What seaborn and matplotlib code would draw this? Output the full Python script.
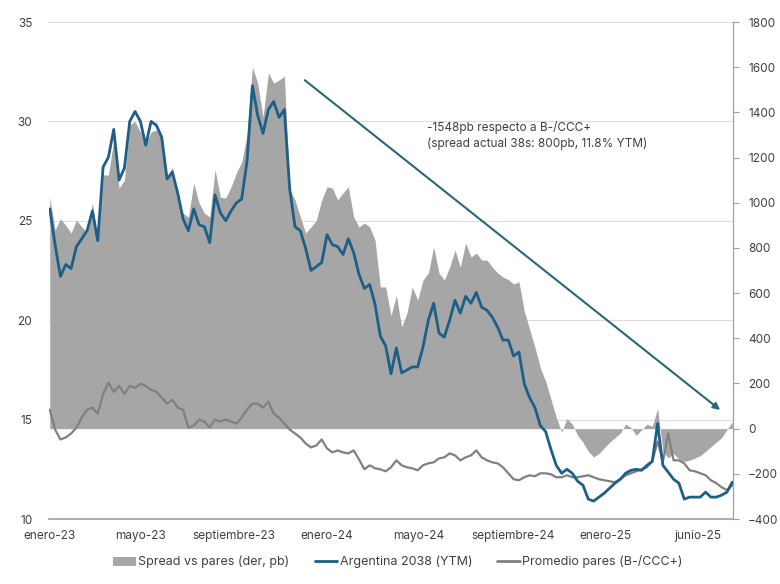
import pandas as pd
import matplotlib
matplotlib.use("Agg")
import matplotlib.pyplot as plt
from matplotlib.patches import Patch
from matplotlib.lines import Line2D
import seaborn as sns

# semanas (enero-23 a junio-25)
fechas = pd.date_range("2023-01-02", periods=129, freq="7D")

arg_2038 = [
    25.6, 23.8, 22.2, 22.8, 22.6, 23.7, 24.1, 24.5, 25.5, 24.0,
    27.7, 28.2, 29.6, 27.05, 27.65, 30.0, 30.5, 30.0, 28.8, 30.0,
    29.8, 29.2, 27.1, 27.45, 26.4, 25.1, 24.5, 25.6, 24.8, 24.7,
    23.9, 26.3, 25.4, 25.0, 25.5, 25.9, 26.1, 28.0, 31.8, 30.3,
    29.4, 30.6, 31.0, 30.2, 30.6, 26.6, 24.7, 24.5, 23.6, 22.5,
    22.7, 22.9, 24.3, 23.8, 23.7, 23.3, 24.1, 23.4, 22.3, 21.6,
    21.8, 20.8, 19.2, 18.7, 17.3, 18.6, 17.35, 17.5, 17.65, 17.65,
    18.65, 20.0, 20.85, 19.35, 19.15, 20.0, 21.0, 20.35, 21.2, 20.85,
    21.4, 20.65, 20.5, 20.15, 19.65, 19.0, 19.0, 18.2, 18.4, 16.8,
    16.1, 15.6, 14.7, 14.4, 13.5, 12.7, 12.3, 12.5, 12.3, 11.9,
    11.7, 11.0, 10.9, 11.1, 11.3, 11.55, 11.8, 12.0, 12.3, 12.45,
    12.5, 12.45, 12.7, 12.9, 14.8, 12.7, 12.35, 12.0, 11.8, 11.0,
    11.1, 11.1, 11.1, 11.35, 11.1, 11.1, 11.2, 11.35, 11.85,
]

pares = [
    15.5, 14.5, 14.0, 14.1, 14.3, 14.6, 15.1, 15.5, 15.6, 15.3,
    16.3, 16.85, 16.4, 16.7, 16.3, 16.7, 16.6, 16.8, 16.7, 16.5,
    16.4, 16.1, 15.8, 16.0, 15.6, 15.5, 14.6, 14.7, 15.0, 14.9,
    14.6, 15.0, 14.9, 15.0, 14.9, 14.8, 15.1, 15.5, 15.8, 15.8,
    15.6, 15.9, 15.3, 15.1, 14.8, 14.5, 14.3, 14.1, 13.8, 13.6,
    13.7, 14.0, 13.55, 13.35, 13.45, 13.35, 13.3, 13.45, 13.0, 12.5,
    12.7, 12.55, 12.5, 12.4, 12.6, 12.95, 12.7, 12.6, 12.55, 12.45,
    12.7, 12.8, 12.85, 13.05, 13.1, 13.3, 13.2, 12.95, 13.1, 13.2,
    13.45, 13.1, 12.95, 12.85, 12.8, 12.6, 12.3, 12.0, 11.95, 12.1,
    12.2, 12.15, 12.3, 12.3, 12.25, 12.1, 12.1, 12.2, 12.1, 12.1,
    12.15, 12.2, 12.1, 12.0, 11.95, 11.9, 11.85, 12.0, 12.2, 12.3,
    12.4, 12.5, 12.6, 12.9, 13.9, 12.9, 14.3, 12.95, 12.95, 12.8,
    12.45, 12.4, 12.3, 12.2, 11.95, 11.8, 11.6, 11.45, 11.7,
]

spread = [
    1025, 880, 930, 900, 866, 923, 893, 870, 1000, 826,
    1123, 1123, 1278, 1065, 1100, 1344, 1360, 1313, 1264, 1313,
    1322, 1285, 1114, 1158, 1012, 954, 937, 1087, 999, 954,
    937, 1145, 1025, 1021, 1070, 1132, 1180, 1300, 1601, 1530,
    1379, 1574, 1530, 1543, 1560, 1060, 1012, 937, 866, 893,
    923, 1012, 1070, 1065, 1012, 1043, 1070, 937, 893, 910,
    893, 835, 627, 627, 500, 590, 450, 512, 627, 569,
    658, 689, 804, 689, 658, 715, 791, 715, 822, 760,
    777, 746, 746, 715, 689, 671, 660, 640, 650, 520,
    440, 360, 270, 210, 130, 50, -15, 45, 20, -30,
    -60, -100, -125, -110, -85, -60, -40, -20, 20, 5,
    -30, -5, 20, 10, 90, -100, -130, -110, -135, -145,
    -140, -130, -120, -100, -80, -60, -40, -5, 30,
]

tick_fechas = pd.to_datetime(["2023-01-01", "2023-05-01", "2023-09-01", "2024-01-01",
                              "2024-05-01", "2024-09-01", "2025-01-01", "2025-05-01"])
tick_labels = ["enero-23", "mayo-23", "septiembre-23", "enero-24",
               "mayo-24", "septiembre-24", "enero-25", "junio-25"]

df = pd.DataFrame({"fecha": fechas, "arg": arg_2038, "pares": pares, "spread": spread})

sns.set_theme(style="white")
plt.rcParams["font.family"] = ["Inter", "DejaVu Sans"]
txt = "#404040"

fig = plt.figure(figsize=(7.8, 5.84), dpi=100)
ax = fig.add_axes([49/780, 1-519/584, (733-49)/780, (519-22)/584])
ax2 = ax.twinx()
ax3 = ax.twinx()

# eje izquierdo: grilla
ax.set_ylim(10, 35)
ax.set_yticks([10, 15, 20, 25, 30, 35])
ax.yaxis.grid(True, color="#dcdcdc", lw=0.8)
ax.tick_params(axis="y", length=0, pad=12, labelsize=8.5, labelcolor=txt)

# spread (der)
ax2.fill_between(df["fecha"], 0, df["spread"], color="#a6a6a6", lw=0)
ax2.set_ylim(-400, 1800)
ax2.set_yticks(range(-400, 1801, 200))
ax2.tick_params(axis="y", length=4, width=0.8, color="#a0a0a0", pad=7,
                labelsize=8.5, labelcolor=txt)

# lineas
sns.lineplot(data=df, x="fecha", y="pares", ax=ax3, color="#808080", lw=1.6, legend=False)
sns.lineplot(data=df, x="fecha", y="arg", ax=ax3, color="#1d5f86", lw=2.0, legend=False)
ax3.set_ylim(10, 35)
ax3.axis("off")

xmin, xmax = pd.Timestamp("2023-01-01"), pd.Timestamp("2025-06-17")
for a in (ax, ax2, ax3):
    a.set_xlim(xmin, xmax)
    a.set_xlabel("")
    a.set_ylabel("")

ax.set_xticks(tick_fechas)
ax.set_xticklabels(tick_labels)
ax.tick_params(axis="x", length=0, pad=8, labelsize=8.5, labelcolor=txt)

for a in (ax, ax2):
    a.spines["top"].set_visible(False)
    a.spines["left"].set_visible(False)
ax.spines["right"].set_visible(False)
ax2.spines["bottom"].set_visible(False)
ax2.spines["right"].set_color("#a0a0a0")
ax2.spines["right"].set_linewidth(0.9)
ax.spines["bottom"].set_color("#a0a0a0")
ax.spines["bottom"].set_linewidth(1.2)

# flecha y texto
ax2.annotate("", xy=(pd.Timestamp("2025-06-03"), 75), xytext=(pd.Timestamp("2023-11-30"), 1550),
             arrowprops=dict(arrowstyle="-|>", color="#2b6776", lw=1.5, mutation_scale=10))
ax.text(0.553, 0.80, "-1548pb respecto a B-/CCC+\n(spread actual 38s: 800pb, 11.8% YTM)",
        transform=ax.transAxes, fontsize=8.5, color=txt, va="top", ha="left", linespacing=1.3)

handles = [
    Patch(facecolor="#a6a6a6", edgecolor="none"),
    Line2D([0], [0], color="#1d5f86", lw=2),
    Line2D([0], [0], color="#808080", lw=2),
]
labels = ["Spread vs pares (der, pb)", "Argentina 2038 (YTM)", "Promedio pares (B-/CCC+)"]
fig.legend(handles, labels, loc="center", bbox_to_anchor=(398/780, (584-562)/584), ncol=3,
           frameon=False, fontsize=9, handlelength=1.8, handletextpad=0.2,
           columnspacing=2.0, labelcolor=txt)

fig.savefig("out.png", dpi=100)
